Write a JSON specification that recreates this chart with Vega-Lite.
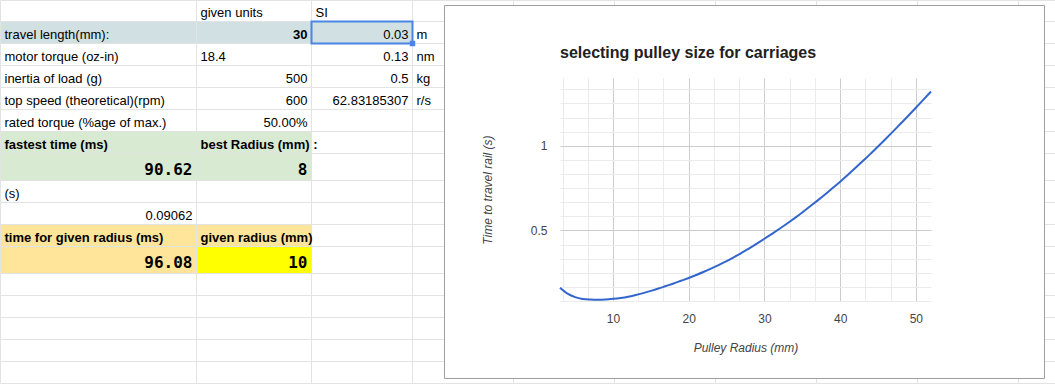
{
  "$schema": "https://vega.github.io/schema/vega-lite/v6.json",
  "background": "white",
  "padding": 0,
  "spacing": 0,
  "bounds": "flush",
  "config": {"view": {"stroke": null}},
  "datasets": {
    "cells": [
      {"c":1,"r":1},{"c":2,"r":1,"text":"given units","kind":"label"},{"c":3,"r":1,"text":"SI","kind":"label"},{"c":4,"r":1},{"c":5,"r":1},{"c":6,"r":1},{"c":7,"r":1},{"c":8,"r":1},{"c":9,"r":1},{"c":10,"r":1},
      {"c":1,"r":2,"text":"travel length(mm):","kind":"label","zone":"travel"},{"c":2,"r":2,"text":"30","kind":"input","zone":"travel"},{"c":3,"r":2,"text":"0.03","kind":"number","zone":"travel","selected":true},{"c":4,"r":2,"text":"m","kind":"label"},{"c":5,"r":2},{"c":6,"r":2},{"c":7,"r":2},{"c":8,"r":2},{"c":9,"r":2},{"c":10,"r":2},
      {"c":1,"r":3,"text":"motor torque (oz-in)","kind":"label"},{"c":2,"r":3,"text":"18.4","kind":"label"},{"c":3,"r":3,"text":"0.13","kind":"number"},{"c":4,"r":3,"text":"nm","kind":"label"},{"c":5,"r":3},{"c":6,"r":3},{"c":7,"r":3},{"c":8,"r":3},{"c":9,"r":3},{"c":10,"r":3},
      {"c":1,"r":4,"text":"inertia of load (g)","kind":"label"},{"c":2,"r":4,"text":"500","kind":"number"},{"c":3,"r":4,"text":"0.5","kind":"number"},{"c":4,"r":4,"text":"kg","kind":"label"},{"c":5,"r":4},{"c":6,"r":4},{"c":7,"r":4},{"c":8,"r":4},{"c":9,"r":4},{"c":10,"r":4},
      {"c":1,"r":5,"text":"top speed (theoretical)(rpm)","kind":"label"},{"c":2,"r":5,"text":"600","kind":"number"},{"c":3,"r":5,"text":"62.83185307","kind":"number"},{"c":4,"r":5,"text":"r/s","kind":"label"},{"c":5,"r":5},{"c":6,"r":5},{"c":7,"r":5},{"c":8,"r":5},{"c":9,"r":5},{"c":10,"r":5},
      {"c":1,"r":6,"text":"rated torque (%age of max.)","kind":"label"},{"c":2,"r":6,"text":"50.00%","kind":"number"},{"c":3,"r":6},{"c":4,"r":6},{"c":5,"r":6},{"c":6,"r":6},{"c":7,"r":6},{"c":8,"r":6},{"c":9,"r":6},{"c":10,"r":6},
      {"c":1,"r":7,"text":"fastest time (ms)","kind":"heading","zone":"best"},{"c":2,"r":7,"text":"best Radius (mm) :","kind":"heading","zone":"best"},{"c":3,"r":7},{"c":4,"r":7},{"c":5,"r":7},{"c":6,"r":7},{"c":7,"r":7},{"c":8,"r":7},{"c":9,"r":7},{"c":10,"r":7},
      {"c":1,"r":8,"text":"90.62","kind":"result","zone":"best"},{"c":2,"r":8,"text":"8","kind":"result","zone":"best"},{"c":3,"r":8},{"c":4,"r":8},{"c":5,"r":8},{"c":6,"r":8},{"c":7,"r":8},{"c":8,"r":8},{"c":9,"r":8},{"c":10,"r":8},
      {"c":1,"r":9,"text":"(s)","kind":"label"},{"c":2,"r":9},{"c":3,"r":9},{"c":4,"r":9},{"c":5,"r":9},{"c":6,"r":9},{"c":7,"r":9},{"c":8,"r":9},{"c":9,"r":9},{"c":10,"r":9},
      {"c":1,"r":10,"text":"0.09062","kind":"number"},{"c":2,"r":10},{"c":3,"r":10},{"c":4,"r":10},{"c":5,"r":10},{"c":6,"r":10},{"c":7,"r":10},{"c":8,"r":10},{"c":9,"r":10},{"c":10,"r":10},
      {"c":1,"r":11,"text":"time for given radius (ms)","kind":"heading","zone":"given"},{"c":2,"r":11,"text":"given radius (mm)","kind":"heading","zone":"given"},{"c":3,"r":11},{"c":4,"r":11},{"c":5,"r":11},{"c":6,"r":11},{"c":7,"r":11},{"c":8,"r":11},{"c":9,"r":11},{"c":10,"r":11},
      {"c":1,"r":12,"text":"96.08","kind":"result","zone":"given"},{"c":2,"r":12,"text":"10","kind":"result","zone":"chosen"},{"c":3,"r":12},{"c":4,"r":12},{"c":5,"r":12},{"c":6,"r":12},{"c":7,"r":12},{"c":8,"r":12},{"c":9,"r":12},{"c":10,"r":12},
      {"c":1,"r":13},{"c":2,"r":13},{"c":3,"r":13},{"c":4,"r":13},{"c":5,"r":13},{"c":6,"r":13},{"c":7,"r":13},{"c":8,"r":13},{"c":9,"r":13},{"c":10,"r":13},
      {"c":1,"r":14},{"c":2,"r":14},{"c":3,"r":14},{"c":4,"r":14},{"c":5,"r":14},{"c":6,"r":14},{"c":7,"r":14},{"c":8,"r":14},{"c":9,"r":14},{"c":10,"r":14},
      {"c":1,"r":15},{"c":2,"r":15},{"c":3,"r":15},{"c":4,"r":15},{"c":5,"r":15},{"c":6,"r":15},{"c":7,"r":15},{"c":8,"r":15},{"c":9,"r":15},{"c":10,"r":15},
      {"c":1,"r":16},{"c":2,"r":16},{"c":3,"r":16},{"c":4,"r":16},{"c":5,"r":16},{"c":6,"r":16},{"c":7,"r":16},{"c":8,"r":16},{"c":9,"r":16},{"c":10,"r":16},
      {"c":1,"r":17},{"c":2,"r":17},{"c":3,"r":17},{"c":4,"r":17},{"c":5,"r":17},{"c":6,"r":17},{"c":7,"r":17},{"c":8,"r":17},{"c":9,"r":17},{"c":10,"r":17}
    ],
    "curve": [
      {"radius":3,"time":0.162},{"radius":4,"time":0.127},{"radius":5,"time":0.106},{"radius":6,"time":0.0955},
      {"radius":7,"time":0.0918},{"radius":8,"time":0.0906},{"radius":9,"time":0.0922},{"radius":10,"time":0.0961},
      {"radius":11,"time":0.1015},{"radius":12,"time":0.109},{"radius":13,"time":0.119},{"radius":14,"time":0.130},
      {"radius":15,"time":0.143},{"radius":16,"time":0.157},{"radius":17,"time":0.172},{"radius":18,"time":0.187},
      {"radius":19,"time":0.203},{"radius":20,"time":0.219},{"radius":21,"time":0.237},{"radius":22,"time":0.256},
      {"radius":23,"time":0.276},{"radius":24,"time":0.297},{"radius":25,"time":0.319},{"radius":26,"time":0.343},
      {"radius":27,"time":0.368},{"radius":28,"time":0.394},{"radius":29,"time":0.422},{"radius":30,"time":0.451},
      {"radius":31,"time":0.480},{"radius":32,"time":0.510},{"radius":33,"time":0.541},{"radius":34,"time":0.573},
      {"radius":35,"time":0.606},{"radius":36,"time":0.641},{"radius":37,"time":0.676},{"radius":38,"time":0.712},
      {"radius":39,"time":0.750},{"radius":40,"time":0.788},{"radius":41,"time":0.827},{"radius":42,"time":0.868},
      {"radius":43,"time":0.910},{"radius":44,"time":0.952},{"radius":45,"time":0.996},{"radius":46,"time":1.040},
      {"radius":47,"time":1.085},{"radius":48,"time":1.131},{"radius":49,"time":1.177},{"radius":50,"time":1.224},
      {"radius":51,"time":1.272},{"radius":52,"time":1.320}
    ]
  },
  "hconcat": [
    {
      "width": 560,
      "height": 223,
      "data": {"name": "cells"},
      "transform": [
        {"bin": {"step": 1, "extent": [0, 20]}, "field": "c", "as": ["c0", "c1"]},
        {"bin": {"step": 1, "extent": [0, 20]}, "field": "r", "as": ["r0", "r1"]}
      ],
      "layer": [
        {
          "mark": {"type": "rect", "fill": "#ffffff", "stroke": "#e2e3e3", "strokeWidth": 1},
          "encoding": {
            "x": {"field": "c0", "type": "quantitative", "axis": null, "scale": {"type": "linear", "domain": [1,2,3,4,5,6,7,8,9,10,11], "range": [0.5,196.5,311.5,412.5,513.5,614.5,715.5,816.5,917.5,1018.5,1119.5], "zero": false, "nice": false}},
            "x2": {"field": "c1"},
            "y": {"field": "r0", "type": "quantitative", "axis": null, "scale": {"type": "linear", "domain": [1,2,3,4,5,6,7,8,9,10,11,12,13,14,15,16,17,18], "range": [-77.5,-56.5,-34.5,-12.5,9.5,31.5,53.5,75.5,102.5,124.5,146.5,168.5,195.5,217.5,239.5,261.5,283.5,305.5], "zero": false, "nice": false}},
            "y2": {"field": "r1"}
          }
        },
        {
          "transform": [{"filter": "isValid(datum.zone)"}],
          "mark": {"type": "rect", "stroke": "#e2e3e3", "strokeWidth": 1},
          "encoding": {
            "x": {"field": "c0", "type": "quantitative", "axis": null, "scale": {"type": "linear", "domain": [1,2,3,4,5,6,7,8,9,10,11], "range": [0.5,196.5,311.5,412.5,513.5,614.5,715.5,816.5,917.5,1018.5,1119.5], "zero": false, "nice": false}},
            "x2": {"field": "c1"},
            "y": {"field": "r0", "type": "quantitative", "axis": null, "scale": {"type": "linear", "domain": [1,2,3,4,5,6,7,8,9,10,11,12,13,14,15,16,17,18], "range": [-77.5,-56.5,-34.5,-12.5,9.5,31.5,53.5,75.5,102.5,124.5,146.5,168.5,195.5,217.5,239.5,261.5,283.5,305.5], "zero": false, "nice": false}},
            "y2": {"field": "r1"},
            "fill": {"field": "zone", "type": "nominal", "legend": null, "scale": {"domain": ["travel", "best", "given", "chosen"], "range": ["#d0e0e3", "#d9ead3", "#ffe599", "#ffff00"]}}
          }
        },
        {
          "transform": [{"filter": "datum.selected === true"}],
          "mark": {"type": "rect", "fillOpacity": 0, "stroke": "#4a86e8", "strokeWidth": 2},
          "encoding": {
            "x": {"field": "c0", "type": "quantitative", "axis": null, "scale": {"type": "linear", "domain": [1,2,3,4,5,6,7,8,9,10,11], "range": [0.5,196.5,311.5,412.5,513.5,614.5,715.5,816.5,917.5,1018.5,1119.5], "zero": false, "nice": false}},
            "x2": {"field": "c1"},
            "y": {"field": "r0", "type": "quantitative", "axis": null, "scale": {"type": "linear", "domain": [1,2,3,4,5,6,7,8,9,10,11,12,13,14,15,16,17,18], "range": [-77.5,-56.5,-34.5,-12.5,9.5,31.5,53.5,75.5,102.5,124.5,146.5,168.5,195.5,217.5,239.5,261.5,283.5,305.5], "zero": false, "nice": false}},
            "y2": {"field": "r1"}
          }
        },
        {
          "transform": [{"filter": "datum.selected === true"}],
          "mark": {"type": "point", "shape": "square", "filled": true, "size": 30, "color": "#4a86e8", "opacity": 1},
          "encoding": {
            "x": {"field": "c1", "type": "quantitative", "axis": null, "scale": {"type": "linear", "domain": [1,2,3,4,5,6,7,8,9,10,11], "range": [0.5,196.5,311.5,412.5,513.5,614.5,715.5,816.5,917.5,1018.5,1119.5], "zero": false, "nice": false}},
            "y": {"field": "r1", "type": "quantitative", "axis": null, "scale": {"type": "linear", "domain": [1,2,3,4,5,6,7,8,9,10,11,12,13,14,15,16,17,18], "range": [-77.5,-56.5,-34.5,-12.5,9.5,31.5,53.5,75.5,102.5,124.5,146.5,168.5,195.5,217.5,239.5,261.5,283.5,305.5], "zero": false, "nice": false}}
          }
        },
        {
          "transform": [{"filter": "datum.kind === 'label'"}],
          "mark": {"type": "text", "align": "left", "baseline": "alphabetic", "dx": 4, "dy": -5, "font": "Liberation Sans", "fontSize": 13, "color": "#000000"},
          "encoding": {
            "x": {"field": "c0", "type": "quantitative", "axis": null, "scale": {"type": "linear", "domain": [1,2,3,4,5,6,7,8,9,10,11], "range": [0.5,196.5,311.5,412.5,513.5,614.5,715.5,816.5,917.5,1018.5,1119.5], "zero": false, "nice": false}},
            "y": {"field": "r1", "type": "quantitative", "axis": null, "scale": {"type": "linear", "domain": [1,2,3,4,5,6,7,8,9,10,11,12,13,14,15,16,17,18], "range": [-77.5,-56.5,-34.5,-12.5,9.5,31.5,53.5,75.5,102.5,124.5,146.5,168.5,195.5,217.5,239.5,261.5,283.5,305.5], "zero": false, "nice": false}},
            "text": {"field": "text"}
          }
        },
        {
          "transform": [{"filter": "datum.kind === 'heading'"}],
          "mark": {"type": "text", "align": "left", "baseline": "alphabetic", "dx": 4, "dy": -5, "font": "Liberation Sans", "fontSize": 13, "fontWeight": "bold", "color": "#000000"},
          "encoding": {
            "x": {"field": "c0", "type": "quantitative", "axis": null, "scale": {"type": "linear", "domain": [1,2,3,4,5,6,7,8,9,10,11], "range": [0.5,196.5,311.5,412.5,513.5,614.5,715.5,816.5,917.5,1018.5,1119.5], "zero": false, "nice": false}},
            "y": {"field": "r1", "type": "quantitative", "axis": null, "scale": {"type": "linear", "domain": [1,2,3,4,5,6,7,8,9,10,11,12,13,14,15,16,17,18], "range": [-77.5,-56.5,-34.5,-12.5,9.5,31.5,53.5,75.5,102.5,124.5,146.5,168.5,195.5,217.5,239.5,261.5,283.5,305.5], "zero": false, "nice": false}},
            "text": {"field": "text"}
          }
        },
        {
          "transform": [{"filter": "datum.kind === 'number'"}],
          "mark": {"type": "text", "align": "right", "baseline": "alphabetic", "dx": -4, "dy": -5, "font": "Liberation Sans", "fontSize": 13, "color": "#000000"},
          "encoding": {
            "x": {"field": "c1", "type": "quantitative", "axis": null, "scale": {"type": "linear", "domain": [1,2,3,4,5,6,7,8,9,10,11], "range": [0.5,196.5,311.5,412.5,513.5,614.5,715.5,816.5,917.5,1018.5,1119.5], "zero": false, "nice": false}},
            "y": {"field": "r1", "type": "quantitative", "axis": null, "scale": {"type": "linear", "domain": [1,2,3,4,5,6,7,8,9,10,11,12,13,14,15,16,17,18], "range": [-77.5,-56.5,-34.5,-12.5,9.5,31.5,53.5,75.5,102.5,124.5,146.5,168.5,195.5,217.5,239.5,261.5,283.5,305.5], "zero": false, "nice": false}},
            "text": {"field": "text"}
          }
        },
        {
          "transform": [{"filter": "datum.kind === 'input'"}],
          "mark": {"type": "text", "align": "right", "baseline": "alphabetic", "dx": -4, "dy": -5, "font": "Liberation Sans", "fontSize": 13, "fontWeight": "bold", "color": "#000000"},
          "encoding": {
            "x": {"field": "c1", "type": "quantitative", "axis": null, "scale": {"type": "linear", "domain": [1,2,3,4,5,6,7,8,9,10,11], "range": [0.5,196.5,311.5,412.5,513.5,614.5,715.5,816.5,917.5,1018.5,1119.5], "zero": false, "nice": false}},
            "y": {"field": "r1", "type": "quantitative", "axis": null, "scale": {"type": "linear", "domain": [1,2,3,4,5,6,7,8,9,10,11,12,13,14,15,16,17,18], "range": [-77.5,-56.5,-34.5,-12.5,9.5,31.5,53.5,75.5,102.5,124.5,146.5,168.5,195.5,217.5,239.5,261.5,283.5,305.5], "zero": false, "nice": false}},
            "text": {"field": "text"}
          }
        },
        {
          "transform": [{"filter": "datum.kind === 'result'"}],
          "mark": {"type": "text", "align": "right", "baseline": "alphabetic", "dx": -4, "dy": -6, "font": "DejaVu Sans Mono", "fontSize": 16, "fontWeight": "bold", "color": "#000000"},
          "encoding": {
            "x": {"field": "c1", "type": "quantitative", "axis": null, "scale": {"type": "linear", "domain": [1,2,3,4,5,6,7,8,9,10,11], "range": [0.5,196.5,311.5,412.5,513.5,614.5,715.5,816.5,917.5,1018.5,1119.5], "zero": false, "nice": false}},
            "y": {"field": "r1", "type": "quantitative", "axis": null, "scale": {"type": "linear", "domain": [1,2,3,4,5,6,7,8,9,10,11,12,13,14,15,16,17,18], "range": [-77.5,-56.5,-34.5,-12.5,9.5,31.5,53.5,75.5,102.5,124.5,146.5,168.5,195.5,217.5,239.5,261.5,283.5,305.5], "zero": false, "nice": false}},
            "text": {"field": "text"}
          }
        },
        {
          "data": {"values": [{"object": "chart frame"}]},
          "mark": {"type": "rect", "fill": "#ffffff", "stroke": "#9e9e9e", "strokeWidth": 1},
          "encoding": {
            "x": {"datum": 4.3168, "type": "quantitative", "axis": null, "scale": {"type": "linear", "domain": [1,2,3,4,5,6,7,8,9,10,11], "range": [0.5,196.5,311.5,412.5,513.5,614.5,715.5,816.5,917.5,1018.5,1119.5], "zero": false, "nice": false}},
            "x2": {"datum": 10.2574},
            "y": {"datum": 1.2381, "type": "quantitative", "axis": null, "scale": {"type": "linear", "domain": [1,2,3,4,5,6,7,8,9,10,11,12,13,14,15,16,17,18], "range": [-77.5,-56.5,-34.5,-12.5,9.5,31.5,53.5,75.5,102.5,124.5,146.5,168.5,195.5,217.5,239.5,261.5,283.5,305.5], "zero": false, "nice": false}},
            "y2": {"datum": 17.7727}
          }
        }
      ]
    },
    {
      "width": 371,
      "height": 223,
      "title": {"text": "selecting pulley size for carriages", "anchor": "start", "frame": "group", "orient": "top", "font": "Liberation Sans", "fontSize": 16, "fontWeight": "bold", "color": "#212121", "baseline": "alphabetic", "offset": 4},
      "data": {"name": "curve"},
      "mark": {"type": "line", "color": "#3366cc", "strokeWidth": 2, "interpolate": "monotone"},
      "encoding": {
        "x": {
          "field": "radius", "type": "quantitative",
          "scale": {"domain": [3, 52], "nice": false, "zero": false},
          "axis": {
            "title": "Pulley Radius (mm)",
            "values": [3.3333333, 6.6666667, 10, 13.3333333, 16.6666667, 20, 23.3333333, 26.6666667, 30, 33.3333333, 36.6666667, 40, 43.3333333, 46.6666667, 50],
            "grid": true,
            "gridColor": {"condition": {"test": "datum.value % 10 === 0", "value": "#cccccc"}, "value": "#ebebeb"},
            "domain": false, "ticks": false,
            "labelExpr": "datum.value % 10 === 0 ? format(datum.value, 'd') : ''",
            "labelOverlap": false,
            "labelFont": "Liberation Sans", "labelFontSize": 12, "labelColor": "#444444", "labelPadding": 12,
            "titleFont": "Liberation Sans", "titleFontSize": 12, "titleFontStyle": "italic", "titleFontWeight": "normal", "titleColor": "#444444", "titlePadding": 18
          }
        },
        "y": {
          "field": "time", "type": "quantitative",
          "scale": {"domain": [0.0833333, 1.4], "nice": false, "zero": false},
          "axis": {
            "title": "Time to travel rail (s)",
            "values": [0.0833333, 0.1666667, 0.25, 0.3333333, 0.4166667, 0.5, 0.5833333, 0.6666667, 0.75, 0.8333333, 0.9166667, 1, 1.0833333, 1.1666667, 1.25, 1.3333333],
            "grid": true,
            "gridColor": {"condition": {"test": "datum.value === 0.5 || datum.value === 1", "value": "#cccccc"}, "value": "#ebebeb"},
            "domain": false, "ticks": false,
            "labelExpr": "datum.value === 0.5 ? '0.5' : (datum.value === 1 ? '1' : '')",
            "labelOverlap": false,
            "labelFont": "Liberation Sans", "labelFontSize": 12, "labelColor": "#444444", "labelPadding": 13,
            "titleFont": "Liberation Sans", "titleFontSize": 12, "titleFontStyle": "italic", "titleFontWeight": "normal", "titleColor": "#444444", "titlePadding": 36
          }
        }
      }
    }
  ]
}
